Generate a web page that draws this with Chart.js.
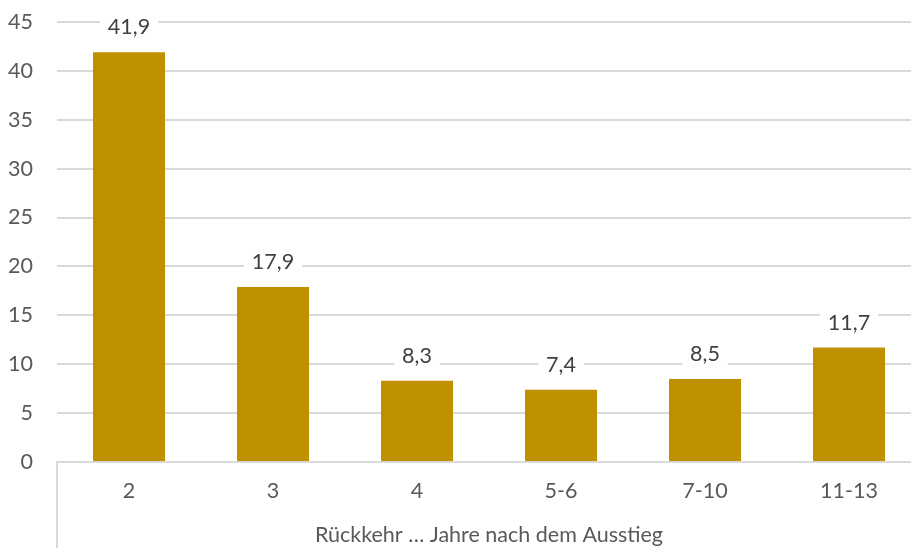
<!DOCTYPE html>
<html>
<head>
<meta charset="utf-8">
<script src="https://cdn.jsdelivr.net/npm/chart.js@4"></script>
<style>
html,body{margin:0;padding:0;background:#fff;overflow:hidden;}
#wrap{width:921px;height:548px;position:relative;}
</style>
</head>
<body>
<div id="wrap"><canvas id="c"></canvas></div>
<script>
const categories = ["2", "3", "4", "5-6", "7-10", "11-13"];
const values = [41.9, 17.9, 8.3, 7.4, 8.5, 11.7];
const axisTitle = "Rückkehr … Jahre nach dem Ausstieg";

const FONT = "Lato, 'Open Sans', sans-serif";
const FS = 21.5;

const labelPlugin = {
  id: 'valueLabels',
  afterDatasetsDraw(chart) {
    const ctx = chart.ctx;
    const meta = chart.getDatasetMeta(0);
    ctx.save();
    ctx.font = FS + "px " + FONT;
    ctx.textAlign = 'center';
    ctx.textBaseline = 'middle';
    meta.data.forEach((bar, i) => {
      const txt = values[i].toFixed(1).replace('.', ',');
      const w = ctx.measureText(txt).width + 16;
      const y = bar.y - 25;
      ctx.fillStyle = '#fff';
      ctx.fillRect(bar.x - w / 2, y - 13, w, 26);
      ctx.fillStyle = '#404040';
      ctx.fillText(txt, bar.x, y);
    });
    ctx.restore();
  }
};

const leftLinePlugin = {
  id: 'leftLine',
  afterDraw(chart) {
    const ctx = chart.ctx;
    const a = chart.chartArea;
    ctx.save();
    ctx.strokeStyle = '#d9d9d9';
    ctx.lineWidth = 2;
    ctx.beginPath();
    ctx.moveTo(a.left, a.bottom);
    ctx.lineTo(a.left, chart.height);
    ctx.stroke();
    ctx.restore();
  }
};

new Chart(document.getElementById('c'), {
  type: 'bar',
  data: {
    labels: categories,
    datasets: [{
      data: values,
      backgroundColor: '#BF9000',
      barPercentage: 0.5,
      categoryPercentage: 1.0
    }]
  },
  options: {
    responsive: true,
    maintainAspectRatio: false,
    animation: false,
    layout: { padding: { top: 22, right: 0, left: 0, bottom: 0 } },
    plugins: { legend: { display: false }, tooltip: { enabled: false } },
    scales: {
      y: {
        min: 0, max: 45,
        ticks: { stepSize: 5, color: '#595959', font: { family: FONT, size: FS }, padding: 24 },
        grid: { color: '#d9d9d9', lineWidth: 2, drawTicks: false },
        border: { display: false },
        afterFit(s) { s.width = 57; s.paddingTop = 0; s.paddingBottom = 0; }
      },
      x: {
        ticks: { color: '#595959', font: { family: FONT, size: FS }, padding: 16 },
        grid: { display: false, drawTicks: false },
        border: { display: true, color: '#d9d9d9', width: 2 },
        title: { display: true, text: axisTitle, color: '#595959', font: { family: FONT, size: FS }, padding: { top: 12, bottom: 0 } },
        afterFit(s) { s.height = 86; s.paddingLeft = 0; s.paddingRight = 0; }
      }
    }
  },
  plugins: [labelPlugin, leftLinePlugin]
});
</script>
</body>
</html>
